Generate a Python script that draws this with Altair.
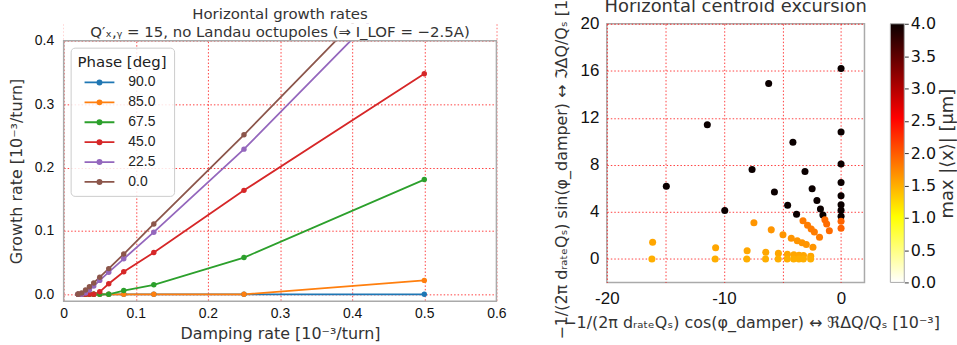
import altair as alt
import pandas as pd

# ---------------- left panel data ----------------
damping = [0.5, 0.25, 0.125, 0.0833, 0.0625, 0.05, 0.0417, 0.0357, 0.0303, 0.025, 0.02]
phase_labels = ["90.0", "85.0", "67.5", "45.0", "22.5", "0.0"]
growth_90 = [0.0, 0.0, 0.0, 0.0, 0.0, 0.0, 0.0, 0.0, 0.0, 0.0, 0.0]
growth_85 = [0.022, 0.0, 0.0, 0.0, 0.0, 0.0, 0.0, 0.0, 0.0, 0.0, 0.0]
growth_675 = [0.181, 0.058, 0.015, 0.006, 0.0, 0.0, 0.0, 0.0, 0.0, 0.0, 0.0]
growth_45 = [0.348, 0.164, 0.066, 0.0355, 0.0167, 0.004, 0.0, 0.0, 0.0, 0.0, 0.0]
growth_225 = [0.518, 0.229, 0.098, 0.056, 0.035, 0.022, 0.013, 0.007, 0.002, 0.0, 0.0]
growth_0 = [0.543, 0.2516, 0.111, 0.0635, 0.0406, 0.027, 0.018, 0.012, 0.007, 0.002, 0.0]
series_colors = ["#1f77b4", "#ff7f0e", "#2ca02c", "#d62728", "#9467bd", "#8c564b"]

# ---------------- right panel data ----------------
re_vals = [0, 0, 0, 0, 0, 0, 0, 0, 0, 0,
           -6.18, -4.11, -3.08, -2.47, -2.06, -1.76, -1.55, -1.38, -1.23, -1.0,
           -11.42, -7.6, -5.69, -4.56, -3.8, -3.25, -2.86, -2.55, -2.28, -1.84,
           -14.92, -9.93, -7.44, -5.96, -4.96, -4.25, -3.74, -3.33, -2.97, -2.4,
           -16.09, -10.71, -8.02, -6.43, -5.35, -4.58, -4.03, -3.59, -3.21, -2.59,
           -16.15, -10.75, -8.05, -6.45, -5.37, -4.6, -4.05, -3.6, -3.22, -2.6]
im_vals = [16.2, 10.8, 8.07, 6.5, 5.37, 4.6, 4.13, 3.62, 3.2, 2.6,
           14.92, 9.93, 7.44, 5.96, 4.96, 4.25, 3.74, 3.33, 2.97, 2.4,
           11.42, 7.6, 5.69, 4.56, 3.8, 3.25, 2.86, 2.55, 2.28, 1.84,
           6.18, 4.11, 3.08, 2.47, 2.06, 1.76, 1.55, 1.38, 1.23, 1.0,
           1.41, 0.94, 0.70, 0.56, 0.47, 0.40, 0.35, 0.31, 0.28, 0.23,
           0, 0, 0, 0, 0, 0, 0, 0, 0, 0]
amp_vals = [4.5, 4.5, 4.5, 4.5, 4.5, 4.5, 4.5, 4.5, 1.95, 1.95,
            4.5, 4.5, 4.5, 4.5, 4.5, 4.5, 4.5, 1.9, 1.9, 1.9,
            4.5, 4.5, 4.5, 4.5, 4.5, 1.8, 1.8, 1.8, 1.8, 1.8,
            4.5, 4.5, 1.65, 1.65, 1.65, 1.65, 1.65, 1.65, 1.65, 1.65,
            1.55, 1.55, 1.55, 1.55, 1.55, 1.55, 1.55, 1.55, 1.55, 1.55,
            1.5, 1.5, 1.5, 1.5, 1.5, 1.5, 1.5, 1.5, 1.5, 1.5]
cbar_lo = [0.0]
cbar_hi = [4.0]
cmap_domain = [0.0, 1.016, 2.54, 4.0]
cmap_colors = ["#ffffff", "#ffff00", "#ff0000", "#0b0000"]

FONT = "DejaVu Sans"
ARIAL = "Liberation Sans"
FRAME = "#aaaaaa"
NB = "\u00a0"

# ---------------- left chart ----------------
growths = [growth_90, growth_85, growth_675, growth_45, growth_225, growth_0]
rows = []
for lab, g in zip(phase_labels, growths):
    for d, v in zip(damping, g):
        rows.append({"Phase": lab, "Damping": d, "Growth": v})
left_df = pd.DataFrame(rows)

# axes box of the left panel (x and y limits) and the band above it
XLIM = (0.0, 0.6)
YLIM = (-0.011, 0.4)
YTOP = 0.4267          # view extends a little above the axes box
box_df = pd.DataFrame({"x0": [XLIM[0]], "x1": [XLIM[1]], "y0": [YLIM[0]], "y1": [YLIM[1]],
                       "m0": [YLIM[1]], "m1": [YTOP]})

LEG_PATH = ("M-3,0L3,0"
            "M-0.42,0A0.42,0.42,0,1,0,0.42,0A0.42,0.42,0,1,0,-0.42,0"
            "M-0.14,0A0.14,0.14,0,1,0,0.14,0A0.14,0.14,0,1,0,-0.14,0")

legend = alt.Legend(title="Phase [deg]", orient="none", legendX=7, legendY=24,
                    symbolType=LEG_PATH, symbolSize=100, symbolStrokeWidth=1.8,
                    fillColor="rgba(255,255,255,0.85)", strokeColor="#cccccc",
                    cornerRadius=4, padding=7, titleFont=FONT, titleFontSize=15,
                    titleFontWeight="normal", titleColor="#222", labelFont=ARIAL,
                    labelFontSize=14, labelColor="#222", rowPadding=6, labelOffset=22,
                    symbolOffset=15, titlePadding=6)

xs_left = alt.Scale(domain=list(XLIM), nice=False, zero=False)
ys_left = alt.Scale(domain=[YLIM[0], YTOP], nice=False, zero=False)

x_left = alt.X("Damping:Q", scale=xs_left,
               axis=alt.Axis(values=[0, 0.1, 0.2, 0.3, 0.4, 0.5, 0.6],
                             labelExpr="datum.value == 0 ? '0" + NB * 4 + "' : format(datum.value, '.1f')",
                             labelFlush=False,
                             title="Damping rate [10⁻³/turn]", labelPadding=5,
                             titlePadding=5))
y_left = alt.Y("Growth:Q", scale=ys_left,
               axis=alt.Axis(values=[0, 0.05, 0.1, 0.15, 0.2, 0.25, 0.3, 0.35, 0.4],
                             labelExpr="round(datum.value*20) % 2 == 0 ? format(datum.value, '.1f') : ''",
                             title="Growth rate [10⁻³/turn]", labelPadding=10,
                             titlePadding=10, titleY=148))
color_left = alt.Color("Phase:N", sort=phase_labels,
                       scale=alt.Scale(domain=phase_labels, range=series_colors),
                       legend=legend)

base_left = alt.Chart(left_df)
lines = base_left.mark_line(clip=True, strokeWidth=1.8).encode(
    x=x_left, y=y_left, color=color_left, order="Damping:Q")
dots = base_left.mark_circle(clip=True, size=30, opacity=1).encode(
    x=x_left, y=y_left, color=color_left)
mask = alt.Chart(box_df).mark_rect(fill="white", strokeOpacity=0).encode(
    x=alt.X("x0:Q", scale=xs_left), x2="x1:Q",
    y=alt.Y("m0:Q", scale=ys_left), y2="m1:Q")
frame = alt.Chart(box_df).mark_rect(fill="transparent", stroke=FRAME, strokeWidth=1.5).encode(
    x=alt.X("x0:Q", scale=xs_left), x2="x1:Q",
    y=alt.Y("y0:Q", scale=ys_left), y2="y1:Q")

left = alt.layer(lines, dots, mask, frame).properties(
    width=435, height=279,
    view=alt.ViewBackground(stroke="transparent"),
    title=alt.TitleParams(text=" ", fontSize=20, subtitle=[
        "Horizontal growth rates",
        "Q′ₓ,ᵧ = 15, no Landau octupoles (⇒ I_LOF = −2.5A)"],
        subtitleFont=FONT, subtitleFontSize=15, subtitleLineHeight=18,
        subtitleColor="#333", subtitlePadding=40, offset=-16, anchor="middle"))

# ---------------- right chart ----------------
right_df = pd.DataFrame({"re": re_vals, "im": im_vals, "amp": amp_vals})
cbar_df = pd.DataFrame({"lo": cbar_lo, "hi": cbar_hi})

pts = alt.Chart(right_df).mark_circle(size=50, opacity=1).encode(
    x=alt.X("re:Q", scale=alt.Scale(domain=[-20, 2], nice=False, zero=False),
            axis=alt.Axis(values=[-20, -15, -10, -5, 0],
                          labelExpr=("datum.value == -20 ? '-20" + NB * 3 + "' : "
                                     "(datum.value % 10 == 0 ? '' + datum.value : '')"),
                          labelFlush=False,
                          labelFont=ARIAL, labelFontSize=17, labelPadding=8,
                          title="−1/(2π dᵣₐₜₑQₛ) cos(φ_damper) ↔ ℜΔQ/Qₛ [10⁻³]",
                          titleFontSize=16, titleX=145, titleY=40,
                          titleAlign="center", titleBaseline="middle")),
    y=alt.Y("im:Q", scale=alt.Scale(domain=[-2, 20], nice=False, zero=False),
            axis=alt.Axis(values=[0, 4, 8, 12, 16, 20], labelFont=ARIAL,
                          labelFontSize=17, labelPadding=8,
                          title="−1/(2π dᵣₐₜₑQₛ) sin(φ_damper) ↔ ℑΔQ/Qₛ [10⁻³]",
                          titleFontSize=16, titleAngle=270, titleAlign="left",
                          titleBaseline="middle", titleX=-46, titleY=317)),
    color=alt.Color("amp:Q", scale=alt.Scale(domain=cmap_domain, range=cmap_colors,
                                              clamp=True, interpolate="rgb"),
                    legend=None))

grad = alt.Gradient(gradient="linear",
                    stops=[alt.GradientStop(color=c, offset=o / 4.0)
                           for c, o in zip(cmap_colors, cmap_domain)],
                    x1=0, x2=0, y1=1, y2=0)

cbar = alt.Chart(cbar_df).mark_rect(fill=grad, stroke=FRAME, strokeWidth=1).encode(
    x=alt.value(285), x2=alt.value(299),
    y=alt.Y("lo:Q", scale=alt.Scale(domain=[0, 4], nice=False, zero=False),
            axis=alt.Axis(orient="right", offset=40, grid=False, ticks=True, tickSize=4,
                          tickColor="#333", values=[0, 0.5, 1, 1.5, 2, 2.5, 3, 3.5, 4],
                          format=".1f", labelFont=FONT, labelFontSize=16, labelPadding=2,
                          title="max |⟨x⟩| [μm]", titleFontSize=18, titleAngle=270,
                          titleX=43, titleY=130, titleAlign="center",
                          titleBaseline="middle")),
    y2="hi:Q")

right = alt.layer(pts, cbar).resolve_scale(y="independent").properties(
    width=259, height=260,
    title=alt.TitleParams("Horizontal centroid excursion", fontSize=18, offset=11,
                          dy=59, anchor="middle"))

chart = alt.hconcat(left, right, spacing=45).properties(
    padding={"top": -55, "left": 7, "right": 0, "bottom": 0}
).configure_view(stroke=FRAME, strokeWidth=1.5).configure_axis(
    grid=True, gridColor="#ff0000", gridDash=[1.5, 2], gridOpacity=0.75, gridWidth=1,
    domain=False, ticks=False, labelFont=ARIAL, labelFontSize=14, labelColor="#111",
    titleFont=FONT, titleFontSize=16, titleFontWeight="normal", titleColor="#333"
).configure_title(font=FONT, fontSize=15, fontWeight="normal", color="#333")

chart.save("out.html", embed_options={"renderer": "svg", "actions": False})
